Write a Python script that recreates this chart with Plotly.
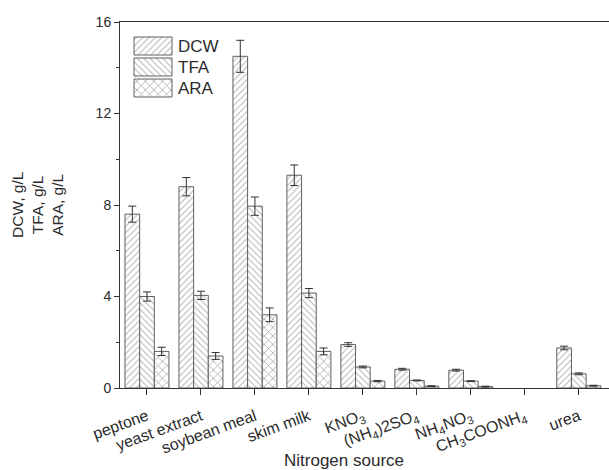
import plotly.graph_objects as go

categories = ["peptone", "yeast extract", "soybean meal", "skim milk",
              "KNO<sub>3</sub>", "(NH<sub>4</sub>)2SO<sub>4</sub>", "NH<sub>4</sub>NO<sub>3</sub>",
              "CH<sub>3</sub>COONH<sub>4</sub>", "urea"]

# CH3COONH4 shows no bar in the reference (no growth)
dcw = [7.6, 8.8, 14.5, 9.3, 1.9, 0.82, 0.78, None, 1.75]
dcw_err = [0.35, 0.4, 0.7, 0.45, 0.08, 0.04, 0.04, None, 0.08]
tfa = [4.0, 4.05, 7.95, 4.15, 0.92, 0.33, 0.3, None, 0.62]
tfa_err = [0.2, 0.18, 0.4, 0.2, 0.04, 0.02, 0.02, None, 0.04]
ara = [1.6, 1.4, 3.2, 1.6, 0.3, 0.08, 0.06, None, 0.1]
ara_err = [0.18, 0.15, 0.3, 0.15, 0.03, 0.02, 0.02, None, 0.02]

series_names = ["DCW", "TFA", "ARA"]
series_vals = [dcw, tfa, ara]
series_errs = [dcw_err, tfa_err, ara_err]
series_shapes = ["/", "\\", "x"]
series_psize = [4.5, 4.5, 6]
series_solid = [0.22, 0.22, 0.28]

font = "Liberation Sans, Arial, sans-serif"
ink = "#2b2b2b"
edge_c = "#606060"
hatch_c = "#666666"

fig = go.Figure()
x_idx = list(range(len(categories)))
for name, vals, errs, shape, ps, so in zip(series_names, series_vals, series_errs,
                                          series_shapes, series_psize, series_solid):
    fig.add_trace(go.Bar(
        x=x_idx, y=vals, name=name, showlegend=False,
        marker=dict(color="white", line=dict(color=edge_c, width=1),
                    pattern=dict(shape=shape, fgcolor=hatch_c, bgcolor="white",
                                 size=ps, solidity=so, fillmode="overlay")),
        error_y=dict(type="data", array=errs, visible=True, color="#333333",
                     thickness=1, width=4),
    ))

# legend drawn in a pixel-like overlay coordinate system (x: 120..609, y: 388..22)
leg_x0, leg_x1 = 134, 172
leg_rows = [(37, 55), (58, 76), (79, 97)]
for name, shape, ps, so, (y0, y1) in zip(series_names, series_shapes, series_psize,
                                         series_solid, leg_rows):
    fig.add_trace(go.Scatter(
        x=[leg_x0, leg_x1, leg_x1, leg_x0, leg_x0], y=[y0, y0, y1, y1, y0],
        xaxis="x2", yaxis="y2", mode="lines", fill="toself",
        line=dict(color=edge_c, width=1), fillcolor="white",
        fillpattern=dict(shape=shape, fgcolor=hatch_c, bgcolor="white",
                         size=ps, solidity=so, fillmode="overlay"),
        showlegend=False, hoverinfo="skip"))
    fig.add_annotation(text=name, xref="x2", yref="y2", x=leg_x1 + 4, y=(y0 + y1) / 2,
                       xanchor="left", yanchor="middle", showarrow=False,
                       font=dict(size=17, color=ink))

fig.update_layout(
    width=609, height=470,
    margin=dict(l=120, r=0, t=22, b=82),
    paper_bgcolor="white", plot_bgcolor="white",
    barmode="group", bargap=0.185, bargroupgap=0,
    font=dict(family=font, size=14, color=ink),
    showlegend=False,
    xaxis=dict(range=[-0.5, 8.56], tickmode="array", tickvals=x_idx, ticktext=categories,
               tickangle=-20, ticks="outside", ticklen=6, tickcolor="#333",
               ticklabelstandoff=6,
               showline=True, linecolor="#333", linewidth=1, mirror=True,
               showgrid=False, zeroline=False, tickfont=dict(size=16, color=ink)),
    yaxis=dict(range=[0, 16], tickvals=[0, 4, 8, 12, 16], ticks="outside", ticklen=5,
               tickcolor="#333", showline=True, linecolor="#333", linewidth=1,
               showgrid=False, zeroline=False, tickfont=dict(size=14, color=ink),
               minor=dict(tickvals=[2, 6, 10, 14], ticks="outside", ticklen=3, tickcolor="#333")),
    xaxis2=dict(range=[120, 609], overlaying="x", anchor="y2", visible=False, fixedrange=True),
    yaxis2=dict(range=[388, 22], overlaying="y", anchor="x2", visible=False, fixedrange=True),
)

fig.add_annotation(text="DCW, g/L<br>TFA, g/L<br>ARA, g/L", xref="paper", yref="paper",
                   x=(37 - 120) / 489, y=0.5, xanchor="center", yanchor="middle",
                   textangle=-90, showarrow=False, align="center",
                   font=dict(size=15.5, color=ink))
fig.add_annotation(text="Nitrogen source", xref="paper", yref="paper",
                   x=0.458, y=-0.197, xanchor="center", yanchor="middle",
                   showarrow=False, font=dict(size=17, color=ink))

fig.write_html("out.html", config={"displayModeBar": False},
               post_script="document.body.style.margin='0';")
